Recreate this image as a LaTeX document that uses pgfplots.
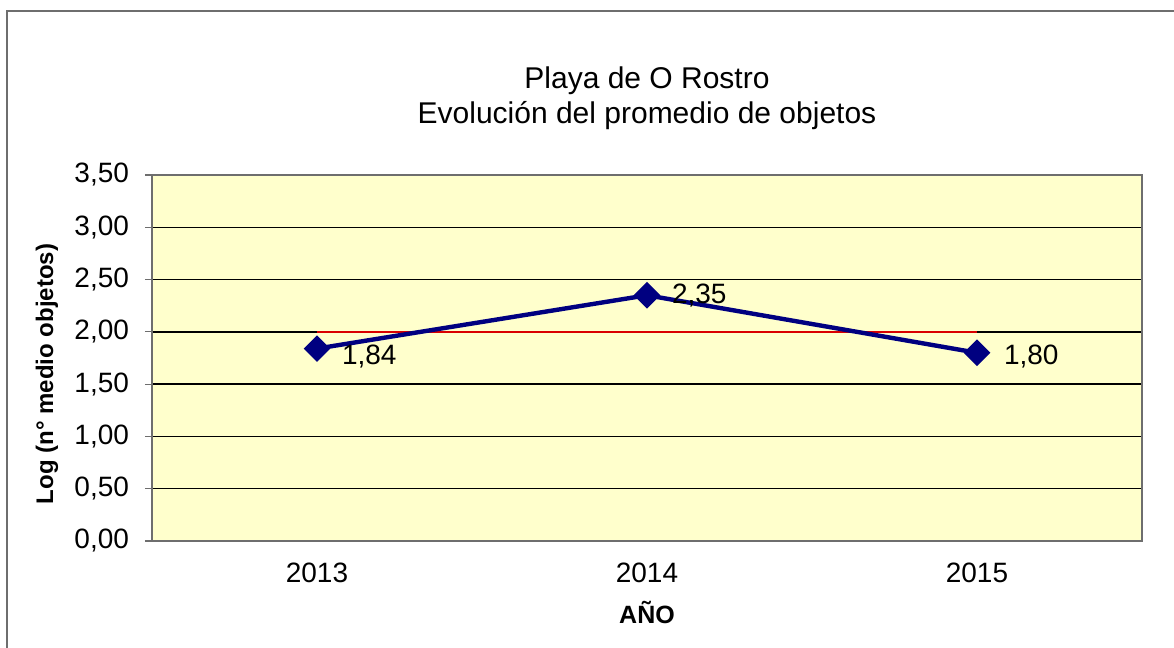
\documentclass[border=0pt]{standalone}
\usepackage{fontspec}
\setmainfont{Liberation Sans}
\usepackage{pgfplots}
\pgfplotsset{compat=1.18}

\definecolor{plotbg}{RGB}{255,255,204}
\definecolor{serie}{RGB}{0,0,128}
\definecolor{frame}{RGB}{110,110,110}

\begin{document}
\begin{tikzpicture}
\useasboundingbox (-76pt,-53.5pt) rectangle (511pt,270.5pt);
\draw[frame, line width=1.3pt] (-72.5pt,-53.5pt) -- (-72.5pt,265pt) -- (511pt,265pt);
\begin{axis}[
  at={(0pt,0pt)}, anchor=south west,
  scale only axis,
  width=495pt, height=183pt,
  xmin=0.5, xmax=3.5,
  ymin=0, ymax=3.5,
  ytick={0,0.5,...,3.5},
  xtick={1,2,3},
  xticklabels={2013,2014,2015},
  major x tick style={draw=none},
  extra x ticks={0.5,1.5,2.5,3.5},
  extra x tick labels={},
  extra x tick style={major tick length=3.5pt, tick style={draw=black, line width=0.6pt}},
  tick align=outside,
  major tick length=3.5pt,
  ytick pos=left, xtick pos=bottom,
  tick style={draw=frame, line width=0.6pt},
  ymajorgrids,
  grid style={black, line width=0.7pt},
  axis line style={frame, line width=0.8pt},
  axis background/.style={fill=plotbg},
  /pgf/number format/.cd, fixed, fixed zerofill, precision=2, use comma, assume math mode=true,
  /pgfplots/.cd,
  ticklabel style={font=\fontsize{14}{16}\selectfont},
  yticklabel style={xshift=-4.5pt},
  xticklabel style={yshift=-4pt},
  xlabel={\textbf{AÑO}},
  xlabel style={font=\fontsize{12.5}{14}\selectfont, at={(axis description cs:0.5,0)}, anchor=center, yshift=-35.5pt},
  ylabel={\textbf{Log (n° medio objetos)}},
  ylabel style={font=\fontsize{12}{14}\selectfont, at={(axis description cs:-0.106,0.456)}, anchor=center},
  clip=false,
]
\addplot[red!85!black, line width=0.8pt, mark=none] coordinates {(1,2.00) (3,2.00)};
\addplot[serie, line width=2.2pt, mark=square*, mark size=3.6pt,
  mark options={rotate=45, fill=serie, draw=serie}] coordinates {
  (1,1.84) (2,2.35) (3,1.80)
};
\node[anchor=west, font=\fontsize{14}{16}\selectfont, xshift=9pt, yshift=-4pt] at (axis cs:1,1.84) {1,84};
\node[anchor=west, font=\fontsize{14}{16}\selectfont, xshift=9pt, yshift=0pt] at (axis cs:2,2.35) {2,35};
\node[anchor=west, font=\fontsize{14}{16}\selectfont, xshift=10pt, yshift=-2pt] at (axis cs:3,1.80) {1,80};
\node[align=center, font=\fontsize{15}{17.5}\selectfont, yshift=38.5pt] at (rel axis cs:0.5,1) {Playa de O Rostro\\Evolución del promedio de objetos};
\end{axis}
\end{tikzpicture}
\end{document}
